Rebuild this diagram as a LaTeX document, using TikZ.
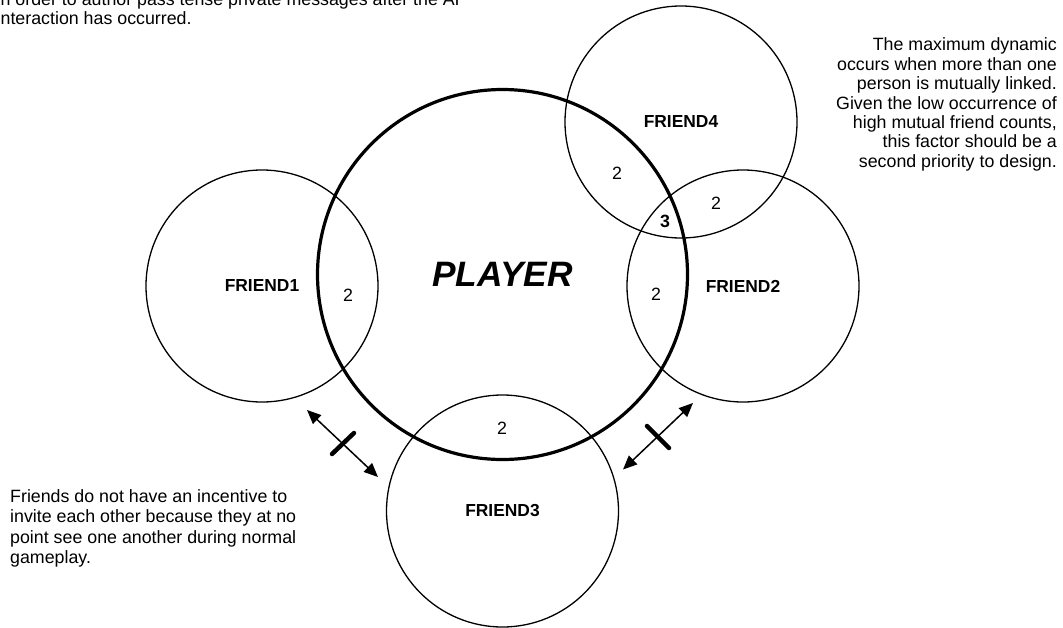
\documentclass[tikz,border=0pt]{standalone}
\usepackage{fontspec}
\setmainfont{Liberation Sans}
\usetikzlibrary{arrows.meta}
\newcommand\txtsize{\fontsize{17.8}{19.5}\selectfont}
\tikzset{
  friend/.style={circle, draw, line width=1.3pt, minimum size=232pt, inner sep=0pt,
    font=\fontsize{17.4}{19}\selectfont\bfseries},
  playercirc/.style={circle, draw, line width=3.2pt, minimum size=370pt, inner sep=0pt,
    font=\fontsize{35.3}{38}\selectfont\bfseries\itshape},
  count/.style={inner sep=0pt, font=\fontsize{17.8}{19}\selectfont},
  countb/.style={inner sep=0pt, font=\fontsize{17.8}{19}\selectfont\bfseries},
  note/.style={inner sep=0pt, font=\txtsize},
  dbl/.style={line width=1.5pt, {Triangle[length=14pt,width=12pt]}-{Triangle[length=14pt,width=12pt]}},
  bar/.style={line width=4.5pt, line cap=round}
}
\begin{document}
\begin{tikzpicture}[x=1pt,y=-1pt]
\useasboundingbox (0,0) rectangle (1063,627);
% circles
\node[playercirc] (player) at (502.5,274.5) {PLAYER};
\node[friend] (f1) at (262,286) {FRIEND1};
\node[friend] (f2) at (743,286) {FRIEND2};
\node[friend] (f3) at (502.5,511) {FRIEND3};
\node[friend] (f4) at (681,122) {FRIEND4};
% counts
\node[count] (c1) at (348,295) {2};
\node[count] (c2) at (656,294) {2};
\node[count] (c3) at (502,428) {2};
\node[count] (c4) at (617,173) {2};
\node[count] (c5) at (716,203) {2};
\node[countb] (c6) at (665,221) {3};
% arrows with bars
\coordinate (la) at (307,410);
\coordinate (lb) at (378,477);
\coordinate (lc) at (332,454);
\coordinate (ld) at (354,433);
\coordinate (ra) at (693,403);
\coordinate (rb) at (623,469.5);
\coordinate (rc) at (647,426);
\coordinate (rd) at (669,448);
\draw[dbl] (la) -- (lb);
\draw[bar] (lc) -- (ld);
\draw[dbl] (ra) -- (rb);
\draw[bar] (rc) -- (rd);
% notes
\node[note, anchor=north west, align=left, font=\fontsize{17.8}{19}\selectfont] (tl) at (-4.5,-7.3)
  {In order to author pass tense private messages after the AI\\Interaction has occurred.};
\node[note, anchor=north east, align=right, font=\fontsize{17.8}{19.4}\selectfont] (tr) at (1057,37.8)
  {The maximum dynamic\\occurs when more than one\\person is mutually linked.\\Given the low occurrence of\\high mutual friend counts,\\this factor should be a\\second priority to design.};
\node[note, anchor=north west, align=left, font=\fontsize{17.8}{20.2}\selectfont] (bl) at (10,489.5)
  {Friends do not have an incentive to\\invite each other because they at no\\point see one another during normal\\gameplay.};
\end{tikzpicture}
\end{document}
